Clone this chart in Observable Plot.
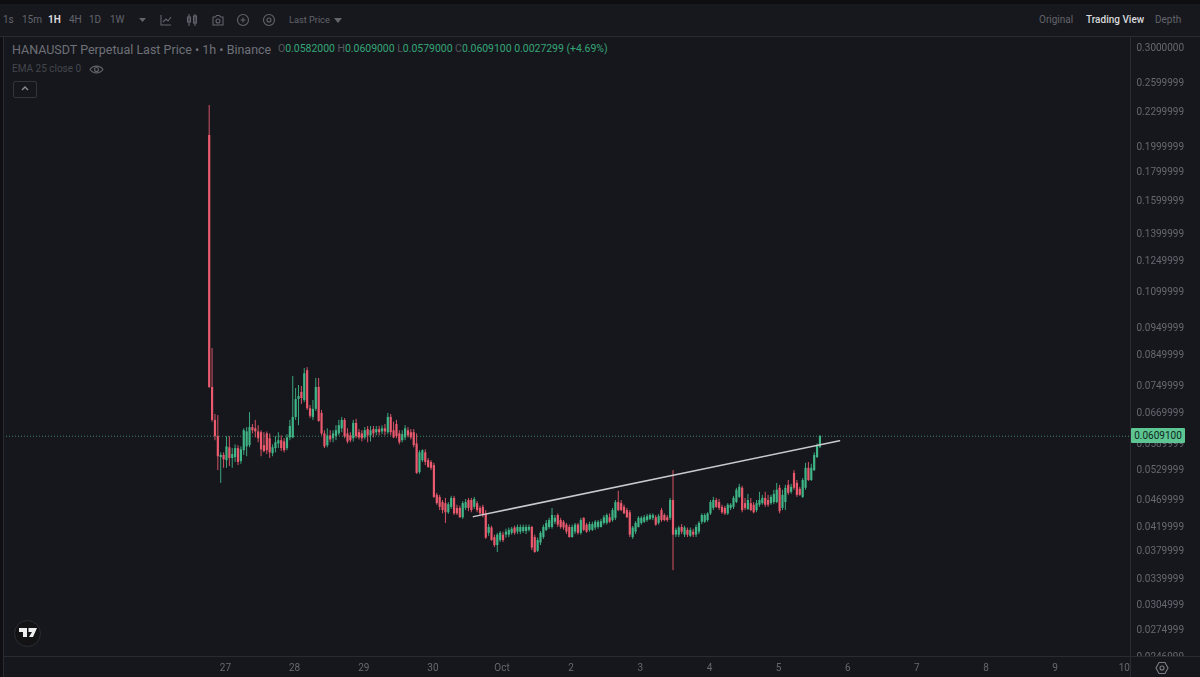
<!DOCTYPE html>
<html><head><meta charset="utf-8">
<script src="https://cdn.jsdelivr.net/npm/d3@7"></script>
<script src="https://cdn.jsdelivr.net/npm/@observablehq/plot@0.6"></script>
<style>
html,body{margin:0;padding:0;background:#16171c;width:1200px;height:677px;overflow:hidden;font-family:Roboto,"Liberation Sans",sans-serif}
#stage{position:relative;width:1200px;height:677px;background:#16171c}
#toolbar{position:absolute;left:0;top:0;width:1200px;height:36px;background:#17181d;border-bottom:1px solid #2a2b32;z-index:3}
#toolbar:before{content:"";position:absolute;left:0;top:0;width:1200px;height:4px;background:#0e0e11}
.t{position:absolute;white-space:nowrap;line-height:1}
.tb{top:15px;font-size:10px;color:#62646c}
svg.ic{position:absolute;fill:none;stroke:#62646c;stroke-width:1.1}
#chart{position:absolute;left:0;top:37px;filter:blur(.45px)}
#leftbar{position:absolute;left:0;top:37px;width:3px;height:640px;background:#101014;border-right:1px solid #2a2b32;z-index:2}
#corner{position:absolute;left:1131px;top:657px;width:69px;height:20px;background:#16171c;z-index:2}
#hline{position:absolute;left:3px;top:656px;width:1197px;height:1px;background:#2a2b32;z-index:2}
#vline{position:absolute;left:1130px;top:37px;width:1px;height:640px;background:#2a2b32;z-index:2}
#price{position:absolute;left:1131px;width:54px;height:15px;line-height:15px;text-align:center;background:#5cc592;color:#12261c;font-size:10px;border-radius:1px;z-index:4}
</style></head>
<body>
<div id="stage">
  <div id="chart"></div>
  <div id="leftbar"></div><div id="hline"></div><div id="vline"></div><div id="corner"></div>
  <div id="toolbar"></div>
  <div class="t" style="left:12px;top:44px;font-size:12.5px;color:#6e7078;z-index:3">HANAUSDT Perpetual Last Price • 1h • Binance</div>
  <div class="t" id="ohlc" style="left:278px;top:44px;font-size:10.45px;color:#35a578;z-index:3"></div>
  <div class="t" style="left:12px;top:64px;font-size:10px;color:#44464d;z-index:3">EMA 25 close 0</div>
  <svg class="ic" style="left:89px;top:63px;z-index:3" width="15" height="13" viewBox="0 0 15 13"><path d="M1 6.5C4 2 11 2 14 6.5C11 11 4 11 1 6.5Z"/><circle cx="7.5" cy="6.5" r="2"/></svg>
  <div style="position:absolute;left:13px;top:81px;width:22px;height:15px;border:1px solid #33343b;border-radius:2px;z-index:3"></div>
  <svg class="ic" style="left:20px;top:85px;z-index:3;stroke:#8a8c93;stroke-width:1.4" width="10" height="7" viewBox="0 0 10 7"><path d="M2 5L5 2L8 5"/></svg>
  <div style="position:absolute;left:14px;top:620px;width:25px;height:25px;border-radius:50%;background:#131316;border:1.5px solid #2d2e33;z-index:3"></div>
  <svg style="position:absolute;left:19px;top:627px;z-index:3" width="18" height="12" viewBox="0 0 18 12"><path fill="#eee" d="M0 1H8V10H4V5H0ZM9.5 1H18L14 10H10L13 5H9.5Z"/></svg>
  <svg class="ic" style="left:1155px;top:661px;z-index:3;stroke:#7b7d84" width="14" height="14" viewBox="0 0 14 14"><path d="M4 1.5H10L13 7L10 12.5H4L1 7Z"/><circle cx="7" cy="7" r="2"/></svg>
</div>
<script>
const opens=[.2091,.0744,.0650,.0608,.0558,.0563,.0551,.0581,.0556,.0558,
.0579,.0549,.0574,.0583,.0586,.0631,.0628,.0620,.0618,.0586,
.0615,.0603,.0567,.0579,.0590,.0598,.0595,.0579,.0605,.0605,
.0658,.0708,.0729,.0705,.0797,.0682,.0658,.0680,.0744,.0669,
.0615,.0586,.0610,.0603,.0608,.0615,.0628,.0650,.0615,.0610,
.0603,.0642,.0618,.0615,.0605,.0626,.0610,.0626,.0618,.0626,
.0620,.0628,.0618,.0658,.0623,.0639,.0615,.0598,.0605,.0623,
.0618,.0618,.0590,.0525,.0551,.0569,.0551,.0547,.0540,.0478,
.0474,.0464,.0462,.0445,.0455,.0472,.0453,.0453,.0436,.0453,
.0468,.0468,.0455,.0462,.0453,.0455,.0443,.0409,.0418,.0402,
.0389,.0397,.0406,.0406,.0406,.0409,.0418,.0411,.0411,.0412,
.0412,.0414,.0419,.0402,.0380,.0393,.0402,.0414,.0419,.0419,
.0428,.0440,.0431,.0428,.0423,.0419,.0402,.0411,.0423,.0409,
.0435,.0423,.0414,.0414,.0418,.0419,.0419,.0426,.0426,.0436,
.0431,.0435,.0464,.0462,.0455,.0449,.0445,.0402,.0411,.0419,
.0426,.0428,.0431,.0433,.0435,.0436,.0426,.0449,.0440,.0436,
.0435,.0468,.0406,.0406,.0419,.0406,.0414,.0404,.0411,.0406,
.0411,.0428,.0428,.0431,.0443,.0453,.0468,.0464,.0455,.0453,
.0443,.0453,.0455,.0464,.0474,.0492,.0462,.0451,.0462,.0459,
.0449,.0459,.0462,.0472,.0468,.0462,.0464,.0464,.0492,.0453,
.0464,.0498,.0484,.0523,.0502,.0490,.0474,.0492,.0534,.0508,
.0529,.0558,.0582];
const closes=[.0744,.0650,.0608,.0560,.0563,.0553,.0583,.0556,.0565,.0579,
.0547,.0576,.0623,.0620,.0631,.0623,.0620,.0603,.0576,.0572,
.0574,.0569,.0581,.0593,.0598,.0579,.0574,.0605,.0634,.0658,
.0708,.0717,.0711,.0787,.0682,.0661,.0680,.0744,.0647,.0615,
.0583,.0610,.0600,.0615,.0623,.0636,.0650,.0608,.0595,.0598,
.0642,.0608,.0605,.0603,.0623,.0610,.0623,.0615,.0626,.0618,
.0628,.0620,.0658,.0618,.0605,.0608,.0593,.0613,.0628,.0610,
.0605,.0586,.0523,.0569,.0574,.0547,.0536,.0534,.0474,.0462,
.0455,.0449,.0445,.0460,.0472,.0443,.0443,.0436,.0462,.0464,
.0453,.0449,.0470,.0449,.0443,.0440,.0401,.0419,.0397,.0389,
.0406,.0409,.0397,.0411,.0414,.0416,.0409,.0419,.0419,.0419,
.0419,.0419,.0385,.0378,.0397,.0409,.0419,.0426,.0431,.0440,
.0435,.0423,.0419,.0418,.0411,.0402,.0419,.0423,.0409,.0431,
.0414,.0411,.0424,.0424,.0428,.0428,.0429,.0436,.0440,.0428,
.0449,.0464,.0449,.0449,.0443,.0436,.0406,.0418,.0426,.0435,
.0435,.0436,.0438,.0440,.0440,.0423,.0438,.0431,.0431,.0431,
.0468,.0406,.0414,.0418,.0411,.0418,.0406,.0414,.0406,.0419,
.0426,.0440,.0440,.0443,.0464,.0468,.0455,.0453,.0445,.0443,
.0459,.0459,.0472,.0488,.0494,.0449,.0453,.0468,.0449,.0445,
.0462,.0468,.0472,.0459,.0459,.0474,.0480,.0488,.0447,.0478,
.0492,.0482,.0494,.0492,.0478,.0478,.0508,.0534,.0508,.0534,
.0563,.0586,.0609];
const highs=[.2365,.0873,.0666,.0663,.0569,.0569,.0608,.0608,.0579,.0588,
.0586,.0583,.0628,.0631,.0671,.0639,.0650,.0636,.0623,.0618,
.0620,.0615,.0588,.0608,.0618,.0610,.0603,.0613,.0650,.0778,
.0741,.0750,.0747,.0804,.0807,.0691,.0705,.0772,.0772,.0677,
.0623,.0628,.0623,.0623,.0636,.0650,.0658,.0655,.0628,.0618,
.0650,.0653,.0626,.0623,.0631,.0634,.0634,.0634,.0634,.0634,
.0636,.0639,.0669,.0666,.0645,.0650,.0623,.0623,.0636,.0631,
.0626,.0626,.0615,.0574,.0576,.0576,.0556,.0551,.0545,.0482,
.0478,.0468,.0472,.0464,.0476,.0476,.0459,.0457,.0466,.0470,
.0472,.0472,.0474,.0466,.0457,.0459,.0449,.0424,.0421,.0406,
.0409,.0412,.0411,.0416,.0418,.0419,.0421,.0423,.0423,.0423,
.0423,.0423,.0421,.0406,.0401,.0412,.0423,.0431,.0435,.0453,
.0440,.0443,.0435,.0431,.0426,.0423,.0423,.0426,.0426,.0435,
.0436,.0426,.0428,.0428,.0431,.0431,.0433,.0440,.0443,.0443,
.0453,.0468,.0486,.0468,.0459,.0453,.0449,.0421,.0429,.0438,
.0438,.0440,.0442,.0443,.0443,.0440,.0442,.0453,.0443,.0440,
.0472,.0529,.0418,.0421,.0424,.0421,.0418,.0418,.0416,.0423,
.0429,.0443,.0443,.0445,.0468,.0474,.0472,.0470,.0459,.0457,
.0462,.0462,.0476,.0492,.0500,.0496,.0472,.0480,.0472,.0464,
.0468,.0484,.0478,.0484,.0478,.0478,.0488,.0502,.0498,.0488,
.0498,.0508,.0500,.0529,.0508,.0494,.0512,.0545,.0547,.0543,
.0569,.0590,.0610];
const lows=[.0741,.0645,.0598,.0529,.0502,.0534,.0534,.0538,.0534,.0547,
.0540,.0543,.0563,.0560,.0581,.0615,.0605,.0593,.0560,.0569,
.0565,.0556,.0560,.0569,.0579,.0572,.0569,.0574,.0598,.0603,
.0650,.0636,.0694,.0699,.0677,.0655,.0650,.0674,.0645,.0610,
.0579,.0581,.0593,.0593,.0598,.0610,.0618,.0603,.0590,.0593,
.0595,.0603,.0600,.0595,.0600,.0593,.0595,.0605,.0610,.0610,
.0613,.0610,.0613,.0610,.0603,.0603,.0588,.0593,.0598,.0605,
.0600,.0581,.0521,.0521,.0547,.0540,.0534,.0529,.0472,.0459,
.0449,.0443,.0426,.0442,.0451,.0440,.0440,.0435,.0433,.0449,
.0447,.0445,.0451,.0445,.0440,.0436,.0399,.0404,.0396,.0386,
.0378,.0394,.0394,.0401,.0402,.0406,.0406,.0407,.0407,.0409,
.0407,.0411,.0381,.0377,.0378,.0389,.0399,.0412,.0416,.0416,
.0424,.0419,.0416,.0414,.0407,.0401,.0401,.0407,.0406,.0406,
.0412,.0409,.0411,.0412,.0414,.0416,.0418,.0423,.0423,.0426,
.0428,.0431,.0447,.0447,.0442,.0435,.0402,.0399,.0407,.0418,
.0423,.0426,.0428,.0431,.0431,.0421,.0423,.0428,.0429,.0428,
.0431,.0351,.0402,.0402,.0407,.0402,.0402,.0402,.0402,.0402,
.0407,.0424,.0426,.0428,.0440,.0449,.0453,.0449,.0442,.0440,
.0440,.0449,.0451,.0462,.0472,.0445,.0449,.0449,.0447,.0443,
.0445,.0455,.0459,.0455,.0455,.0459,.0460,.0462,.0443,.0449,
.0449,.0478,.0480,.0488,.0474,.0476,.0472,.0488,.0506,.0506,
.0527,.0556,.0579];
const priceTicks=[0.3,0.2599999,0.2299999,0.1999999,0.1799999,0.1599999,0.1399999,0.1249999,0.1099999,0.0949999,0.0849999,0.0749999,0.0669999,0.0589999,0.0529999,0.0469999,0.0419999,0.0379999,0.0339999,0.0304999,0.0274999,0.0246999];
const dayTicks=[[2024,8,27,"27"],[2024,8,28,"28"],[2024,8,29,"29"],[2024,8,30,"30"],[2024,9,1,"Oct"],[2024,9,2,"2"],[2024,9,3,"3"],[2024,9,4,"4"],[2024,9,5,"5"],[2024,9,6,"6"],[2024,9,7,"7"],[2024,9,8,"8"],[2024,9,9,"9"],[2024,9,10,"10"]];
const lastPrice=0.0609100;
const trendPrices=[0.0438,0.0598];
const trendDates=[new Date(Date.UTC(2024,8,30,13,42)),new Date(Date.UTC(2024,9,5,20,48))];
const toolbarLeft=[["1s",3],["15m",22],["1H",48],["4H",69],["1D",89],["1W",110],["Last Price",289]];
const toolbarRight=[["Original",1039],["Trading View",1086],["Depth",1155]];
const ohlcParts=[["O","0.0582000"],["H","0.0609000"],["L","0.0579000"],["C","0.0609100"]];

const t0=Date.UTC(2024,8,26,18);
const candles=opens.map((o,i)=>({t:new Date(t0+i*3600e3),o,c:closes[i],h:highs[i],l:lows[i],up:closes[i]>=o}));
const up="#3fb587",down="#ea5a6e";
const col=d=>d.up?up:down;
const tickDates=dayTicks.map(d=>new Date(Date.UTC(d[0],d[1],d[2])));
const tickText=new Map(tickDates.map((d,i)=>[+d,dayTicks[i][3]]));

const plot=Plot.plot({
  width:1200,height:640,marginLeft:3,marginRight:70,marginTop:0,marginBottom:21,
  style:{background:"transparent",fontFamily:"Roboto,sans-serif",fontSize:"10px"},
  x:{type:"utc",domain:[new Date(Date.UTC(2024,8,23,18,36)),new Date(Date.UTC(2024,9,10,1,48))]},
  y:{type:"log",domain:[0.02468,0.31256]},
  marks:[
    Plot.ruleY([lastPrice],{stroke:"#3f8a66",strokeWidth:1,strokeDasharray:"1,2"}),
    Plot.ruleX(candles,{x:"t",y1:"l",y2:"h",stroke:col,strokeWidth:1,strokeOpacity:.9}),
    Plot.ruleX(candles,{x:"t",y1:"o",y2:"c",stroke:col,strokeWidth:2.2}),
    Plot.line(trendDates.map((d,i)=>({d,p:trendPrices[i]})),{x:"d",y:"p",stroke:"#c9c9ce",strokeWidth:1.5}),
    Plot.axisY({anchor:"right",ticks:priceTicks,tickSize:0,tickPadding:6,label:null,color:"#666870",tickFormat:d=>d.toFixed(7)}),
    Plot.axisX({ticks:tickDates,tickSize:0,tickPadding:7,dx:-1,label:null,color:"#666870",tickFormat:d=>tickText.get(+d)})
  ]
});
document.getElementById("chart").appendChild(plot);

const stage=document.getElementById("stage");
const bar=document.getElementById("toolbar");
for(const [s,x] of toolbarLeft){const e=document.createElement("div");e.className="t tb";e.textContent=s;e.style.left=x+"px";if(s==="1H"){e.style.color="#d8d9dc";e.style.fontWeight="700";}if(s==="Last Price"){e.style.fontSize="9.2px";}bar.appendChild(e);}
for(const [s,x] of toolbarRight){const e=document.createElement("div");e.className="t tb";e.textContent=s;e.style.left=x+"px";if(s==="Trading View"){e.style.color="#d8d9dc";e.style.fontWeight="500";}bar.appendChild(e);}
const icons=[[136,'<path fill="#62646c" stroke="none" d="M3 5H10L6.5 9Z"/>'],[159,'<path d="M2 2V12H12M4 9L7 6L9 8L12 4"/>'],[185,'<path d="M4 1V13M10 1V13"/><rect x="2.5" y="4" width="3" height="5"/><rect x="8.5" y="3" width="3" height="7"/>'],[211,'<path d="M2 4H4.5L5.5 2.5H8.5L9.5 4H12V12H2Z"/><circle cx="7" cy="8" r="2"/>'],[236,'<circle cx="7" cy="7" r="5.5"/><path d="M7 4.5V9.5M4.5 7H9.5"/>'],[262,'<circle cx="7" cy="7" r="5.5"/><circle cx="7" cy="7" r="2"/>'],[331,'<path fill="#62646c" stroke="none" d="M3 5H11L7 10Z"/>']];
bar.insertAdjacentHTML("beforeend",icons.map(([x,p])=>`<svg class="ic" style="left:${x}px;top:13px" width="14" height="14" viewBox="0 0 14 14">${p}</svg>`).join(""));
document.getElementById("ohlc").innerHTML=ohlcParts.map(([k,v])=>`<span style="color:#55575e">${k}</span>${v}`).join("&nbsp;")+"&nbsp;0.0027299&nbsp;(+4.69%)";
const tag=document.createElement("div");
tag.id="price";tag.className="t";tag.textContent=lastPrice.toFixed(7);
tag.style.top=(37+plot.scale("y").apply(lastPrice)-7.5)+"px";
stage.appendChild(tag);
</script>
</body></html>
